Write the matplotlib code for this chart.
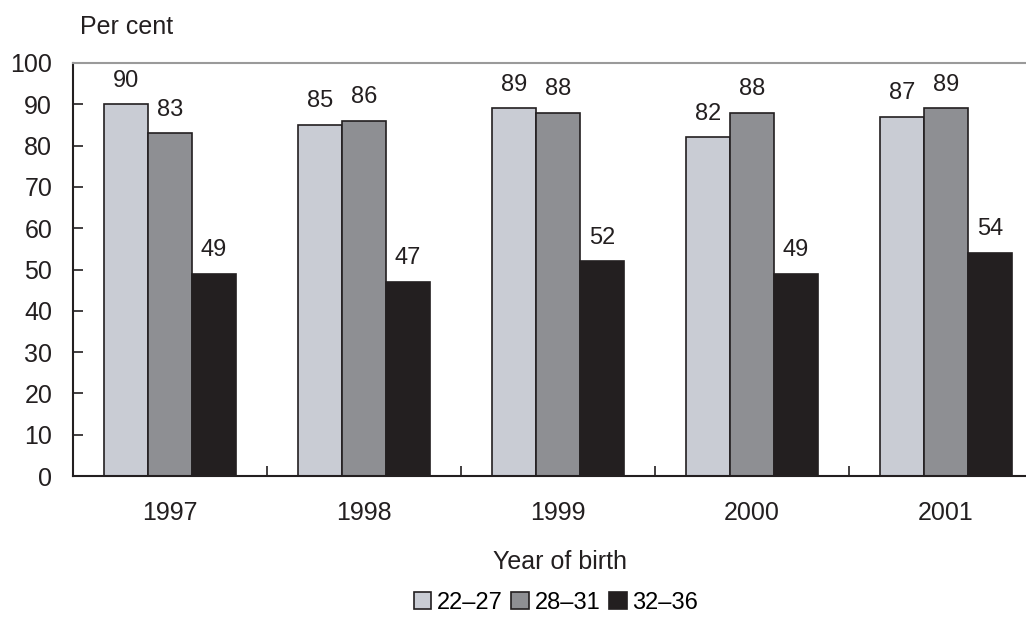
import matplotlib.pyplot as plt
import numpy as np

plt.rcParams["font.family"] = ["Liberation Sans", "DejaVu Sans"]

years = ["1997", "1998", "1999", "2000", "2001"]
ages = ["22\u201327", "28\u201331", "32\u201336"]
age_22_27 = [90, 85, 89, 82, 87]
age_28_31 = [83, 86, 88, 88, 89]
age_32_36 = [49, 47, 52, 49, 54]

colors = ["#c9ccd4", "#8e8f93", "#231f20"]
edge = "#231f20"

fig = plt.figure(figsize=(10.26, 6.19), dpi=100)
ax = fig.add_axes([73 / 1026, 1 - 476 / 619, (1043 - 73) / 1026, (476 - 63) / 619])

x = np.arange(len(years))
width = 0.227
for i, (vals, col) in enumerate(zip([age_22_27, age_28_31, age_32_36], colors)):
    pos = x + (i - 1) * width
    ax.bar(pos, vals, width, color=col, edgecolor=edge, linewidth=1.2, label=ages[i])
    for p, v in zip(pos, vals):
        ax.annotate(str(v), (p, v), xytext=(0, 9), textcoords="offset points",
                    ha="center", va="bottom", fontsize=17, color="#231f20")

ax.set_xlim(-0.5, 4.5)
ax.set_ylim(0, 100)
ax.set_yticks(np.arange(0, 101, 10))
ax.tick_params(axis="y", direction="in", length=7, width=1.2, labelsize=18, pad=15, colors="#231f20")
ax.set_xticks(x)
ax.set_xticklabels(years)
ax.tick_params(axis="x", which="major", length=0, labelsize=18, pad=18, colors="#231f20")
ax.set_xticks(np.arange(0.5, 4.5, 1), minor=True)
ax.tick_params(axis="x", which="minor", direction="in", length=7, width=1.2, color="#231f20")

ax.spines["right"].set_visible(False)
ax.spines["top"].set_color("#9a9a9a")
ax.spines["top"].set_linewidth(1.5)
ax.spines["left"].set_color("#231f20")
ax.spines["left"].set_linewidth(1.5)
ax.spines["bottom"].set_color("#231f20")
ax.spines["bottom"].set_linewidth(1.5)

fig.text(80 / 1026, 1 - 27 / 619, "Per cent", fontsize=18, ha="left", va="center", color="#231f20")
fig.text(560 / 1026, 1 - 562 / 619, "Year of birth", fontsize=18, ha="center", va="center", color="#231f20")

handles, labels = ax.get_legend_handles_labels()
fig.legend(handles, labels, loc="center", bbox_to_anchor=(556 / 1026, 1 - 603 / 619), ncol=3,
           frameon=False, fontsize=17, handlelength=0.75, handleheight=0.75,
           handletextpad=0.25, columnspacing=0.35, borderaxespad=0)

fig.savefig("out.png", dpi=100)
